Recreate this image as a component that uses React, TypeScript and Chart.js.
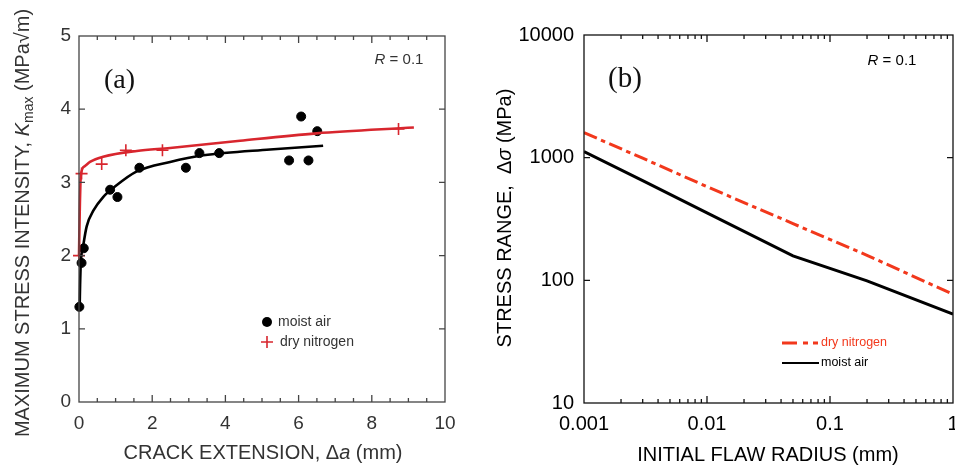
import React, { useEffect, useRef } from "react";
import { Chart, registerables } from "chart.js";

Chart.register(...registerables);

const SANS = '"Liberation Sans", Arial, Helvetica, sans-serif';
const SERIF = '"Liberation Serif", "Times New Roman", serif';

// ---------- Panel (a): maximum stress intensity vs crack extension ----------
const A_X_TICKS = [0, 2, 4, 6, 8, 10];
const A_X_LABELS = ["0", "2", "4", "6", "8", "10"];
const A_Y_TICKS = [0, 1, 2, 3, 4, 5];
const A_Y_LABELS = ["0", "1", "2", "3", "4", "5"];
const A_X_MINOR = [0.5, 1, 1.5, 2.5, 3, 3.5, 4.5, 5, 5.5, 6.5, 7, 7.5, 8.5, 9, 9.5];
const A_X_MAJOR_INNER = [2, 4, 6, 8];
const A_Y_MAJOR_INNER = [1, 2, 3, 4];

const MOIST_DA = [0.01, 0.07, 0.13, 0.85, 1.05, 1.65, 2.92, 3.29, 3.83, 5.74, 6.07, 6.27, 6.51];
const MOIST_K = [1.3, 1.9, 2.1, 2.9, 2.8, 3.2, 3.2, 3.4, 3.4, 3.3, 3.9, 3.3, 3.7];
const NITRO_DA = [0.0, 0.07, 0.62, 1.28, 2.28, 8.73];
const NITRO_K = [2.0, 3.12, 3.25, 3.44, 3.44, 3.73];

const MOIST_FIT_DA = [0.02, 0.03, 0.05, 0.12, 0.21, 0.4, 0.66, 1.0, 1.58, 2.49, 3.4, 5.22, 6.67];
const MOIST_FIT_K = [1.35, 1.6, 1.9, 2.15, 2.4, 2.62, 2.8, 2.95, 3.15, 3.28, 3.37, 3.45, 3.5];
const NITRO_FIT_DA = [0.0, 0.02, 0.05, 0.15, 0.3, 0.66, 1.58, 2.49, 4.4, 6.49, 9.15];
const NITRO_FIT_K = [2.0, 2.6, 3.1, 3.22, 3.28, 3.35, 3.43, 3.47, 3.57, 3.67, 3.75];

// ---------- Panel (b): stress range vs initial flaw radius ----------
const B_X_TICKS = [0.001, 0.01, 0.1, 1];
const B_X_LABELS = ["0.001", "0.01", "0.1", "1"];
const B_Y_TICKS = [10, 100, 1000, 10000];
const B_Y_LABELS = ["10", "100", "1000", "10000"];
const B_X_MINOR = [
  0.002, 0.003, 0.004, 0.005, 0.006, 0.007, 0.008, 0.009,
  0.02, 0.03, 0.04, 0.05, 0.06, 0.07, 0.08, 0.09,
  0.2, 0.3, 0.4, 0.5, 0.6, 0.7, 0.8, 0.9,
];
const B_X_MAJOR_INNER = [0.01, 0.1];
const B_Y_MAJOR_INNER = [100, 1000];

const FLAW_RADIUS = [0.001, 0.003, 0.01, 0.05, 0.2, 1];
const DS_NITRO = [1600, 990, 580, 290, 160, 77];
const DS_MOIST = [1120, 650, 355, 158, 99, 53];

const RED_A = "#d8262e";
const RED_B = "#f2381c";

type Seg = { t: string; italic?: boolean; sub?: boolean };

function drawRich(
  ctx: CanvasRenderingContext2D,
  segs: Seg[],
  x: number,
  y: number,
  size: number,
  color: string,
  rotate = false,
  align: "center" | "left" = "center"
) {
  ctx.save();
  ctx.translate(x, y);
  if (rotate) ctx.rotate(-Math.PI / 2);
  ctx.fillStyle = color;
  ctx.textBaseline = "middle";
  ctx.textAlign = "left";
  const fontFor = (s: Seg) =>
    `${s.italic ? "italic " : ""}${s.sub ? Math.round(size * 0.68) : size}px ${SANS}`;
  let total = 0;
  const widths = segs.map((s) => {
    ctx.font = fontFor(s);
    const w = ctx.measureText(s.t).width;
    total += w;
    return w;
  });
  let cx = align === "center" ? -total / 2 : 0;
  segs.forEach((s, i) => {
    ctx.font = fontFor(s);
    ctx.fillText(s.t, cx, s.sub ? size * 0.3 : 0);
    cx += widths[i];
  });
  ctx.restore();
}

type FrameCfg = {
  id: string;
  color: string;
  lineWidth: number;
  xMinor: number[];
  xMajor: number[];
  yMajor: number[];
  minorLen: number;
  majorLen: number;
  yLen: number;
  draw: (ctx: CanvasRenderingContext2D, chart: any) => void;
};

function framePlugin(cfg: FrameCfg) {
  return {
    id: "frame_" + cfg.id,
    afterDatasetsDraw(chart: any) {
      const { ctx, chartArea: a, scales } = chart;
      const xs = scales.x;
      const ys = scales.y;
      ctx.save();
      ctx.strokeStyle = cfg.color;
      ctx.lineWidth = cfg.lineWidth;
      ctx.strokeRect(a.left, a.top, a.right - a.left, a.bottom - a.top);
      ctx.beginPath();
      const tx = (v: number, len: number) => {
        const p = xs.getPixelForValue(v);
        ctx.moveTo(p, a.bottom);
        ctx.lineTo(p, a.bottom - len);
        ctx.moveTo(p, a.top);
        ctx.lineTo(p, a.top + len);
      };
      const ty = (v: number, len: number) => {
        const p = ys.getPixelForValue(v);
        ctx.moveTo(a.left, p);
        ctx.lineTo(a.left + len, p);
        ctx.moveTo(a.right, p);
        ctx.lineTo(a.right - len, p);
      };
      cfg.xMinor.forEach((v) => tx(v, cfg.minorLen));
      cfg.xMajor.forEach((v) => tx(v, cfg.majorLen));
      cfg.yMajor.forEach((v) => ty(v, cfg.yLen));
      ctx.stroke();
      ctx.restore();
    },
    afterDraw(chart: any) {
      cfg.draw(chart.ctx, chart);
    },
  };
}

function pts(xs: number[], ys: number[]) {
  return xs.map((x, i) => ({ x, y: ys[i] }));
}

function makeA(canvas: HTMLCanvasElement) {
  const textColor = "#333";
  return new Chart(canvas, {
    type: "scatter",
    data: {
      datasets: [
        {
          label: "moist air fit",
          data: pts(MOIST_FIT_DA, MOIST_FIT_K),
          showLine: true,
          borderColor: "#000",
          borderWidth: 2.6,
          pointRadius: 0,
          cubicInterpolationMode: "monotone",
          clip: false,
        } as any,
        {
          label: "dry nitrogen fit",
          data: pts(NITRO_FIT_DA, NITRO_FIT_K),
          showLine: true,
          borderColor: RED_A,
          borderWidth: 2.6,
          pointRadius: 0,
          cubicInterpolationMode: "monotone",
          clip: false,
        } as any,
        {
          label: "moist air",
          data: pts(MOIST_DA, MOIST_K),
          pointStyle: "circle",
          pointRadius: 4.5,
          borderWidth: 1,
          backgroundColor: "#000",
          borderColor: "#000",
          clip: false,
        } as any,
        {
          label: "dry nitrogen",
          data: pts(NITRO_DA, NITRO_K),
          pointStyle: "cross",
          pointRadius: 6,
          borderWidth: 1.6,
          borderColor: RED_A,
          backgroundColor: RED_A,
          clip: false,
        } as any,
      ],
    },
    options: {
      animation: false,
      responsive: false,
      events: [],
      layout: { autoPadding: false, padding: { left: 0, right: 35, top: 36, bottom: 0 } },
      plugins: { legend: { display: false }, tooltip: { enabled: false } },
      scales: {
        x: {
          type: "linear",
          min: 0,
          max: 10,
          afterBuildTicks: (s: any) => {
            s.ticks = A_X_TICKS.map((v) => ({ value: v }));
          },
          afterFit: (s: any) => {
            s.height = 67;
          },
          ticks: {
            font: { family: SANS, size: 19 },
            color: textColor,
            padding: 10,
            maxRotation: 0,
            autoSkip: false,
            callback: (_v: any, i: number) => A_X_LABELS[i],
          },
          grid: { display: false, drawTicks: false },
          border: { display: false },
        },
        y: {
          type: "linear",
          min: 0,
          max: 5,
          afterBuildTicks: (s: any) => {
            s.ticks = A_Y_TICKS.map((v) => ({ value: v }));
          },
          afterFit: (s: any) => {
            s.width = 79;
          },
          ticks: {
            font: { family: SANS, size: 19 },
            color: textColor,
            padding: 8,
            autoSkip: false,
            callback: (_v: any, i: number) => A_Y_LABELS[i],
          },
          grid: { display: false, drawTicks: false },
          border: { display: false },
        },
      },
    } as any,
    plugins: [
      framePlugin({
        id: "a",
        color: "#444",
        lineWidth: 1.3,
        xMinor: A_X_MINOR,
        xMajor: A_X_MAJOR_INNER,
        yMajor: A_Y_MAJOR_INNER,
        minorLen: 4,
        majorLen: 7,
        yLen: 6,
        draw: (ctx, chart) => {
          const ds = chart.data.datasets;
          // axis titles
          drawRich(ctx, [{ t: "CRACK EXTENSION, Δ" }, { t: "a", italic: true }, { t: " (mm)" }], 263, 453, 20, textColor);
          drawRich(
            ctx,
            [
              { t: "MAXIMUM STRESS INTENSITY, " },
              { t: "K", italic: true },
              { t: "max", sub: true },
              { t: " (MPa√m)" },
            ],
            23,
            223,
            20,
            textColor,
            true
          );
          // annotations
          drawRich(ctx, [{ t: "R", italic: true }, { t: " = 0.1" }], 399, 60, 15, textColor);
          ctx.save();
          ctx.fillStyle = "#111";
          ctx.font = `28px ${SERIF}`;
          ctx.textBaseline = "middle";
          ctx.textAlign = "left";
          ctx.fillText("(a)", 104, 81);
          ctx.restore();
          // legend
          ctx.save();
          ctx.fillStyle = "#000";
          ctx.beginPath();
          ctx.arc(267, 322, 5, 0, Math.PI * 2);
          ctx.fill();
          ctx.strokeStyle = RED_A;
          ctx.lineWidth = 1.6;
          ctx.beginPath();
          ctx.moveTo(261, 342);
          ctx.lineTo(273, 342);
          ctx.moveTo(267, 336);
          ctx.lineTo(267, 348);
          ctx.stroke();
          ctx.restore();
          drawRich(ctx, [{ t: ds[2].label }], 278, 322, 14, textColor, false, "left");
          drawRich(ctx, [{ t: ds[3].label }], 280, 342, 14, textColor, false, "left");
        },
      }),
    ],
  });
}

function makeB(canvas: HTMLCanvasElement) {
  const textColor = "#000";
  return new Chart(canvas, {
    type: "scatter",
    data: {
      datasets: [
        {
          label: "dry nitrogen",
          data: pts(FLAW_RADIUS, DS_NITRO),
          showLine: true,
          borderColor: RED_B,
          borderWidth: 3,
          borderDash: [14, 4.5, 4.5, 4.5],
          pointRadius: 0,
          tension: 0,
        } as any,
        {
          label: "moist air",
          data: pts(FLAW_RADIUS, DS_MOIST),
          showLine: true,
          borderColor: "#000",
          borderWidth: 3,
          pointRadius: 0,
          tension: 0,
        } as any,
      ],
    },
    options: {
      animation: false,
      responsive: false,
      events: [],
      layout: { autoPadding: false, padding: { left: 0, right: 22, top: 35, bottom: 0 } },
      plugins: { legend: { display: false }, tooltip: { enabled: false } },
      scales: {
        x: {
          type: "logarithmic",
          min: 0.001,
          max: 1,
          afterBuildTicks: (s: any) => {
            s.ticks = B_X_TICKS.map((v) => ({ value: v, major: true }));
          },
          afterFit: (s: any) => {
            s.height = 66;
          },
          ticks: {
            font: { family: SANS, size: 20 },
            color: textColor,
            padding: 9,
            maxRotation: 0,
            autoSkip: false,
            callback: (_v: any, i: number) => B_X_LABELS[i],
          },
          grid: { display: false, drawTicks: false },
          border: { display: false },
        },
        y: {
          type: "logarithmic",
          min: 10,
          max: 10000,
          afterBuildTicks: (s: any) => {
            s.ticks = B_Y_TICKS.map((v) => ({ value: v, major: true }));
          },
          afterFit: (s: any) => {
            s.width = 104;
          },
          ticks: {
            font: { family: SANS, size: 20 },
            color: textColor,
            padding: 10,
            autoSkip: false,
            callback: (_v: any, i: number) => B_Y_LABELS[i],
          },
          grid: { display: false, drawTicks: false },
          border: { display: false },
        },
      },
    } as any,
    plugins: [
      framePlugin({
        id: "b",
        color: "#111",
        lineWidth: 1.3,
        xMinor: B_X_MINOR,
        xMajor: B_X_MAJOR_INNER,
        yMajor: B_Y_MAJOR_INNER,
        minorLen: 4,
        majorLen: 7,
        yLen: 6,
        draw: (ctx, chart) => {
          const ds = chart.data.datasets;
          drawRich(ctx, [{ t: "INITIAL FLAW RADIUS (mm)" }], 288, 455, 20, textColor);
          drawRich(
            ctx,
            [{ t: "STRESS RANGE,  Δ" }, { t: "σ", italic: true }, { t: " (MPa)" }],
            25,
            218,
            20,
            textColor,
            true
          );
          drawRich(ctx, [{ t: "R", italic: true }, { t: " = 0.1" }], 412, 61, 15, textColor);
          ctx.save();
          ctx.fillStyle = "#111";
          ctx.font = `29px ${SERIF}`;
          ctx.textBaseline = "middle";
          ctx.textAlign = "left";
          ctx.fillText("(b)", 128, 79);
          // legend samples
          ctx.lineWidth = 3;
          ctx.strokeStyle = RED_B;
          ctx.setLineDash([15, 6, 5, 5, 5, 100]);
          ctx.beginPath();
          ctx.moveTo(302, 343);
          ctx.lineTo(339, 343);
          ctx.stroke();
          ctx.setLineDash([]);
          ctx.lineWidth = 2.2;
          ctx.strokeStyle = "#000";
          ctx.beginPath();
          ctx.moveTo(302, 363);
          ctx.lineTo(339, 363);
          ctx.stroke();
          ctx.restore();
          drawRich(ctx, [{ t: ds[0].label }], 341, 343, 12.5, RED_B, false, "left");
          drawRich(ctx, [{ t: ds[1].label }], 341, 363, 12.5, textColor, false, "left");
        },
      }),
    ],
  });
}

export default function App() {
  const refA = useRef<HTMLCanvasElement>(null);
  const refB = useRef<HTMLCanvasElement>(null);

  useEffect(() => {
    const a = refA.current ? makeA(refA.current) : null;
    const b = refB.current ? makeB(refB.current) : null;
    return () => {
      a?.destroy();
      b?.destroy();
    };
  }, []);

  return (
    <div
      style={{
        position: "absolute",
        left: 0,
        top: 0,
        width: 955,
        height: 469,
        background: "#fff",
        overflow: "hidden",
      }}
    >
      <canvas
        ref={refA}
        width={480}
        height={469}
        style={{ position: "absolute", left: 0, top: 0, width: 480, height: 469 }}
      />
      <canvas
        ref={refB}
        width={495}
        height={469}
        style={{ position: "absolute", left: 480, top: 0, width: 495, height: 469 }}
      />
    </div>
  );
}
